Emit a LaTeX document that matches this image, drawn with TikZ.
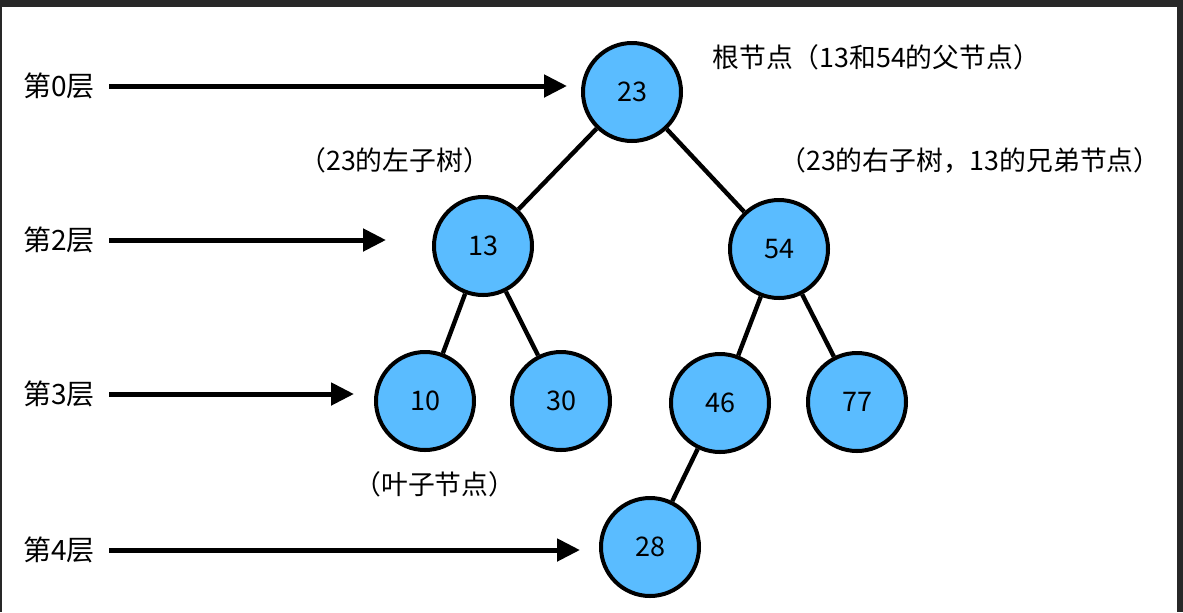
\documentclass[tikz,border=0pt]{standalone}
\usepackage{fontspec}
\setmainfont{Noto Sans CJK SC}
\usetikzlibrary{arrows.meta}
\definecolor{nodeblue}{RGB}{90,188,255}
\definecolor{framegray}{RGB}{40,40,40}
\begin{document}
\begin{tikzpicture}[x=0.5pt, y=-0.5pt,
        treenode/.style={circle, draw=black, line width=2pt, fill=nodeblue,
            minimum size=49pt, inner sep=0pt, font=\fontsize{13.5}{15}\selectfont},
        treeedge/.style={line width=2.2pt},
        level_label/.style={font=\fontsize{14}{16}\selectfont, inner sep=0pt, anchor=west},
        note_label/.style={font=\fontsize{13.4}{15}\selectfont, inner sep=0pt},
        levelarrow/.style={line width=2.5pt, -{Triangle[length=11.5pt, width=11pt]}}
    ]
    % Cornice
    \fill[framegray] (0,0) rectangle (1183,612);
    \fill[white] (2,7) rectangle (1177,612);
    \useasboundingbox (0,0) rectangle (1183,612);

    % Nodi dell'albero
    \node[treenode] (n23) at (632,92) {23};
    \node[treenode] (n13) at (483,246) {13};
    \node[treenode] (n54) at (779,249) {54};
    \node[treenode] (n10) at (425,401) {10};
    \node[treenode] (n30) at (561,401) {30};
    \node[treenode] (n46) at (720,403) {46};
    \node[treenode] (n77) at (857,402) {77};
    \node[treenode] (n28) at (650,547) {28};

    % Rami
    \draw[treeedge] (n23) -- (n13);
    \draw[treeedge] (n23) -- (n54);
    \draw[treeedge] (n13) -- (n10);
    \draw[treeedge] (n13) -- (n30);
    \draw[treeedge] (n54) -- (n46);
    \draw[treeedge] (n54) -- (n77);
    \draw[treeedge] (n46) -- (n28);

    % Livelli
    \node[level_label] (lv0) at (23,86) {第0层};
    \node[level_label] (lv2) at (23,240) {第2层};
    \node[level_label] (lv3) at (23,394) {第3层};
    \node[level_label] (lv4) at (23,550) {第4层};

    \coordinate (tip0) at (567,86);
    \coordinate (tip2) at (386,240);
    \coordinate (tip3) at (354,394);
    \coordinate (tip4) at (580,550);

    \draw[levelarrow] ([xshift=7pt]lv0.east) -- (tip0);
    \draw[levelarrow] ([xshift=7pt]lv2.east) -- (tip2);
    \draw[levelarrow] ([xshift=7pt]lv3.east) -- (tip3);
    \draw[levelarrow] ([xshift=7pt]lv4.east) -- (tip4);

    % Note
    \node[note_label, anchor=west] (root_note) at (712,57) {根节点（13和54的父节点）};
    \node[note_label, anchor=west] (left_note) at (299,160) {（23的左子树）};
    \node[note_label, anchor=west] (right_note) at (779,160) {（23的右子树，13的兄弟节点）};
    \node[note_label, anchor=west] (leaf_note) at (354,484) {（叶子节点）};
\end{tikzpicture}
\end{document}
